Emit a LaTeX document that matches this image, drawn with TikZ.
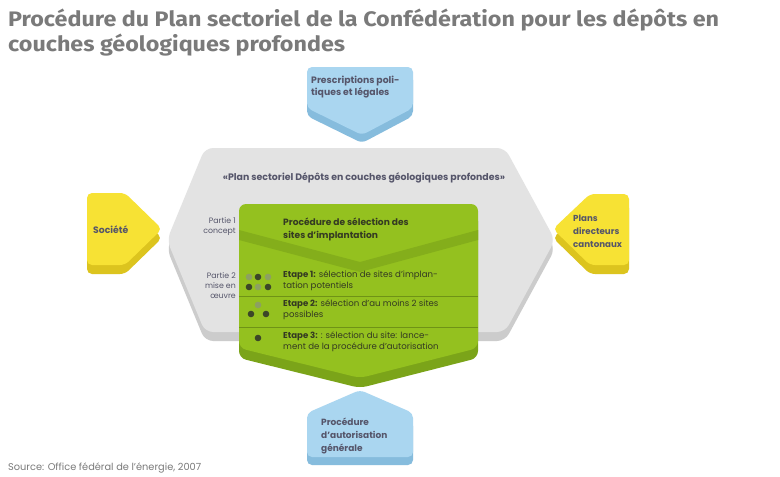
\documentclass[tikz,border=0pt]{standalone}
\usepackage{fontspec}
\setmainfont{Poppins}
\newfontfamily\titlefont[FakeStretch=1.11]{Fira Sans}
\definecolor{titlegray}{HTML}{7A7A7A}
\definecolor{txt}{HTML}{55556A}
\definecolor{bluef}{HTML}{AAD6F0}
\definecolor{blues}{HTML}{86BCDD}
\definecolor{yelf}{HTML}{F7E234}
\definecolor{yels}{HTML}{DCC41E}
\definecolor{grayf}{HTML}{E3E3E3}
\definecolor{grays}{HTML}{CCCCCC}
\definecolor{greenf}{HTML}{94C11F}
\definecolor{greens}{HTML}{7BA419}
\definecolor{greenb}{HTML}{84AE1B}
\definecolor{greenl}{HTML}{6F9316}
\definecolor{dotd}{HTML}{3C4628}
\definecolor{dotl}{HTML}{8CA062}
\definecolor{gtxt}{HTML}{343A22}
\tikzset{
  lbl/.style={inner sep=0pt, anchor=north west, align=left, text=txt},
  etape/.style={inner sep=0pt, anchor=north west, align=left, text=gtxt, font=\fontsize{8.6}{11}\selectfont},
  dk/.style={fill=dotd},
  lt/.style={fill=dotl},
}
\begin{document}
\begin{tikzpicture}[x=1pt,y=-1pt]
\useasboundingbox (0,0) rectangle (780,477);
\fill[white] (0,0) rectangle (780,477);
% title
\node[inner sep=0pt, anchor=north west, align=left, text=titlegray, font=\titlefont\fontsize{21}{25}\selectfont\bfseries] (title) at (8,9)
  {Procédure du Plan sectoriel de la Confédération pour les dépôts en\\couches géologiques profondes};
% blue top
\fill[blues, rounded corners=5pt] (307,75) -- (413,75) -- (413,116) -- (362,143) -- (307,116) -- cycle;
\fill[bluef, rounded corners=5pt] (307,67) -- (413,67) -- (413,108) -- (362,135) -- (307,108) -- cycle;
% gray hexagon
\fill[grays, rounded corners=8pt] (205,157) -- (505,157) -- (555,249) -- (505,341) -- (205,341) -- (167,249) -- cycle;
\fill[grayf, rounded corners=8pt] (205,148) -- (505,148) -- (555,240) -- (505,332) -- (205,332) -- (167,240) -- cycle;
% yellow left
\fill[yels, rounded corners=5pt] (87,202) -- (125,202) -- (162,238) -- (125,274) -- (87,274) -- cycle;
\fill[yelf, rounded corners=5pt] (87,193) -- (125,193) -- (162,229) -- (125,265) -- (87,265) -- cycle;
% yellow right
\fill[yels, rounded corners=5pt] (629,203) -- (590,203) -- (553,238) -- (590,274) -- (629,274) -- cycle;
\fill[yelf, rounded corners=5pt] (629,194) -- (590,194) -- (553,229) -- (590,265) -- (629,265) -- cycle;
% blue bottom
\fill[blues, rounded corners=5pt] (307,421) -- (360,398) -- (413,421) -- (413,465) -- (307,465) -- cycle;
\fill[bluef, rounded corners=5pt] (307,413) -- (360,390) -- (413,413) -- (413,457) -- (307,457) -- cycle;
% green
\fill[greens, rounded corners=7pt] (239,214) -- (478,214) -- (478,358) -- (360,388) -- (239,358) -- cycle;
\fill[greenf, rounded corners=7pt] (239,204) -- (478,204) -- (478,348) -- (360,378) -- (239,348) -- cycle;
\fill[greenb] (239,230) -- (360,262) -- (478,230) -- (478,240) -- (360,272) -- (239,240) -- cycle;
\draw[greenl, line width=0.6pt] (239,296) -- (478,296);
\draw[greenl, line width=0.6pt] (239,327) -- (478,327);
% dots
\fill[lt] (249,277) circle (3.3);
\fill[dk] (258,277) circle (3.3);
\fill[lt] (268,277) circle (3.3);
\fill[dk] (249,287) circle (3.3);
\fill[lt] (258,287) circle (3.3);
\fill[dk] (268,287) circle (3.3);
\fill[lt] (258,305) circle (3.3);
\fill[dk] (251,314) circle (3.3);
\fill[dk] (266,314) circle (3.3);
\fill[dk] (258,338) circle (3.3);
% texts
\node[lbl, font=\fontsize{9.3}{12}\selectfont\bfseries] (presc) at (311,76) {Prescriptions poli-\\tiques et légales};
\node[inner sep=0pt, text=txt, font=\fontsize{9.4}{12}\selectfont\bfseries] (plan) at (364,178) {«Plan sectoriel Dépôts en couches géologiques profondes»};
\node[lbl, anchor=west, font=\fontsize{9.3}{12}\selectfont\bfseries] (soc) at (93,230) {Société};
\node[lbl, anchor=west, font=\fontsize{8.7}{13}\selectfont\bfseries] (pdc) at (573,231) {Plans\\directeurs\\cantonaux};
\node[lbl, anchor=east, align=right, font=\fontsize{7.8}{10}\selectfont] (p1) at (236,227) {Partie 1\\concept};
\node[lbl, anchor=east, align=right, font=\fontsize{7.8}{10}\selectfont] (p2) at (236,286) {Partie 2\\mise en\\œuvre};
\node[lbl, text=gtxt, font=\fontsize{9.1}{13}\selectfont\bfseries] (sel) at (283,218) {Procédure de sélection des\\sites d’implantation};
\node[etape] (e1) at (283,271) {\textbf{Etape 1:} sélection de sites d’implan-\\tation potentiels};
\node[etape] (e2) at (283,300) {\textbf{Etape 2:} sélection d’au moins 2 sites\\possibles};
\node[etape] (e3) at (283,332) {\textbf{Etape 3:} : sélection du site: lance-\\ment de la procédure d’autorisation};
\node[lbl, font=\fontsize{9}{13}\selectfont\bfseries] (aut) at (321,418) {Procédure\\d’autorisation\\générale};
\node[inner sep=0pt, anchor=west, text=titlegray, font=\fontsize{9.8}{12}\selectfont] (src) at (8,468) {Source: Office fédéral de l’énergie, 2007};
\end{tikzpicture}
\end{document}
